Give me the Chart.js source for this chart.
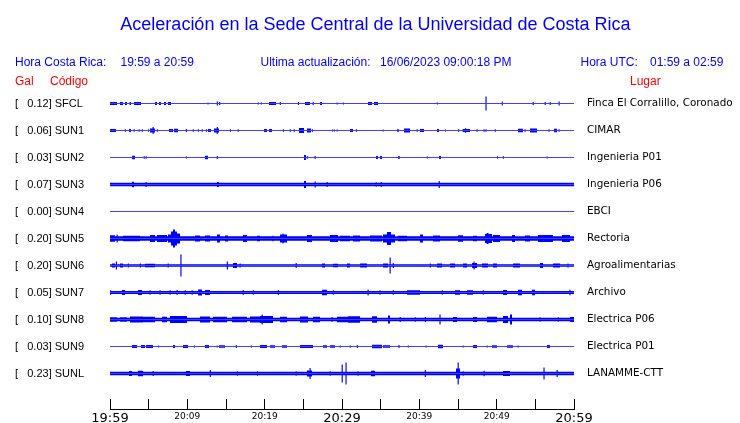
<!DOCTYPE html>
<html><head><meta charset="utf-8">
<script src="https://cdn.jsdelivr.net/npm/chart.js@4/dist/chart.umd.min.js"></script>
<style>
html,body{margin:0;padding:0;background:#fff;}
#wrap{position:relative;width:740px;height:423px;overflow:hidden;background:#fff;}
#wrap canvas{position:absolute;left:0;top:0;}
.t{position:absolute;white-space:pre;font-family:'Liberation Sans',Arial,sans-serif;line-height:1;}
.b{color:#0000ff;font-size:12px;}
.r{color:#ff0000;font-size:12px;}
</style></head><body>
<div id="wrap">
<canvas id="c" width="740" height="423"></canvas>
<div class="t" style="left:0;width:751px;text-align:center;top:14.8px;font-size:18px;color:#0000ff">Aceleración en la Sede Central de la Universidad de Costa Rica</div>
<div class="t b" style="left:15px;top:56px">Hora Costa Rica:</div>
<div class="t b" style="left:120.5px;top:56px">19:59 a 20:59</div>
<div class="t b" style="left:260.5px;top:56px">Ultima actualización:</div>
<div class="t b" style="left:380px;top:56px">16/06/2023 09:00:18 PM</div>
<div class="t b" style="left:580.5px;top:56px">Hora UTC:</div>
<div class="t b" style="left:650px;top:56px">01:59 a 02:59</div>
<div class="t r" style="left:15px;top:75px">Gal</div>
<div class="t r" style="left:50px;top:75px">Código</div>
<div class="t r" style="left:630px;top:75px">Lugar</div>
</div>
<script>
// ---- data ----
const CODES = ['SFCL','SUN1','SUN2','SUN3','SUN4','SUN5','SUN6','SUN7','SUN8','SUN9','SUNL'];
const GAL = [0.12, 0.06, 0.03, 0.07, 0.00, 0.20, 0.20, 0.05, 0.10, 0.03, 0.23];
const PLACES = ['Finca El Corralillo, Coronado','CIMAR','Ingenieria P01','Ingenieria P06','EBCI','Rectoria','Agroalimentarias','Archivo','Electrica P06','Electrica P01','LANAMME-CTT'];
const TIME_LABELS = ['19:59','20:09','20:19','20:29','20:39','20:49','20:59'];
// background noise level of each trace (relative amplitude)
const BASE = [0.5, 0.6, 0.5, 1.7, 0.5, 2.3, 1.2, 1.6, 1.7, 0.5, 1.7];
// bursts: [start minute, end minute, amplitude]
const SFCL = [[0,0.91,1.5],[1.29,1.68,1.5],[1.94,2.2,1.5],[2.53,2.72,1.5],[3.1,4.01,1.5],[5.82,6.08,1.5],[6.34,6.59,1.5],[6.98,7.24,1.5],[7.5,7.89,1.5],[12.6,12.75,1],[13.8,13.95,2],[14.1,14.25,1.5],[19.1,19.25,1],[19.5,19.65,1],[20.56,21.47,1.5],[21.95,22.1,1.5],[24.3,24.45,1.5],[25.22,25.86,1.5],[26.2,26.35,1.5],[27.16,27.41,1.5],[29.3,29.45,1],[30.1,30.25,1],[33.36,33.88,1.5],[34.14,34.66,1.5],[42.25,42.4,1],[48.55,48.7,7],[50.65,50.8,2],[54.65,54.8,1.5],[56.2,56.35,1.5],[56.85,57.0,1.5],[58.0,58.15,2]];
const SUN1 = [[0,0.78,1.5],[1.9,2.05,1.2],[2.46,2.72,1.5],[3.05,3.2,1.2],[3.7,3.85,1.2],[4.1,4.25,1.2],[4.91,5.04,1.2],[5.17,5.82,2],[5.5,5.65,3.5],[6.05,6.2,1.2],[7.63,8.15,1.5],[8.28,8.79,1.7],[9.8,9.95,1.5],[10.7,10.85,1.2],[11.35,11.5,1.2],[11.85,12.0,1.2],[12.4,12.55,1.2],[12.67,13.06,1.5],[13.45,14.09,2],[13.8,13.95,3.5],[15.5,15.65,1.2],[16.5,16.65,1.2],[19.91,20.3,1.5],[20.56,20.95,1.5],[22.35,22.5,1.2],[23.25,23.4,1.2],[23.75,23.9,1.2],[24.44,25.09,2.5],[25.47,25.99,2],[26.1,26.25,1.2],[28.7,28.85,1],[28.95,29.1,1],[29.3,29.45,1],[31.03,31.42,1.5],[31.8,31.95,1.2],[35.25,35.4,1],[37.11,37.37,1.2],[38.02,38.79,2],[39.65,39.8,1.2],[40.09,40.6,1.5],[42.28,42.54,1.5],[43.3,43.45,1],[45.0,45.15,1.2],[45.6,46.55,1.5],[45.9,46.05,2.2],[47.4,47.55,1.2],[48.3,48.45,1.2],[48.55,48.7,1.2],[49.75,49.9,1.2],[52.76,53.4,1.7],[53.6,53.75,1.2],[54.31,55.22,2],[56.7,56.85,1.2],[57.41,57.8,1.7],[58.0,58.15,1.2]];
const SUN2 = [[2.84,3.23,1.7],[4.35,4.5,1.2],[4.6,4.75,1.2],[9.8,9.95,1],[12.28,12.67,1.7],[13.8,13.95,1.5],[25.09,25.34,2.5],[25.45,25.6,1.2],[26.45,26.6,1.5],[34.4,34.66,1.5],[34.91,35.17,1.5],[37.24,37.5,1.2],[40.95,41.1,1],[42.54,42.8,1.5],[50.04,50.17,1.2],[50.8,50.95,1.2],[56.45,56.6,1]];
const SUN3 = [[2.84,3.1,2.7],[4.6,4.75,2.5],[13.84,14.09,2.5],[25.09,25.34,3.5],[26.45,26.6,3],[28.0,28.15,2.5],[34.35,34.5,2.3],[35.0,35.15,2.5],[42.5,42.65,3.5]];
const SUN4 = [];
const SUN5 = [[0,0.65,3.2],[0.85,1.0,4],[1.68,3.88,2.8],[5.17,5.82,3.5],[6.08,7.37,3.5],[7.5,7.89,4],[7.89,8.66,7],[8.15,8.4,9],[8.66,9.05,5],[10.99,11.64,3],[12.28,12.93,3],[13.84,14.22,4],[14.87,15.26,3],[17.2,17.72,3.5],[19.01,19.4,2.8],[21.0,21.15,2.8],[21.98,22.89,4],[22.3,22.45,5],[25.47,26.12,3.5],[28.45,29.48,3.5],[29.74,31.03,2.8],[31.42,32.33,3],[33.62,35.17,3],[35.3,35.82,4],[35.82,36.34,6.5],[36.34,36.85,4],[37.24,38.41,2.8],[40.09,40.47,4],[41.77,42.67,3],[45.0,45.65,3.2],[46.94,47.46,2.8],[48.49,49.4,4.5],[48.7,48.95,5.5],[49.53,50.43,3.5],[51.98,52.37,3.5],[53.66,54.31,3],[55.34,57.28,3.5],[58.45,59.48,3.5]];
const SUN6 = [[0.26,0.65,2],[0.75,0.9,4],[1.29,1.68,2],[2.3,2.45,2],[3.85,4.0,2],[4.53,5.82,1.8],[7.45,7.6,2],[9.1,9.25,11],[15.1,15.25,4],[15.91,16.42,2.5],[16.75,16.9,2],[24.0,24.15,2.5],[27.41,27.8,2],[28.84,29.48,1.8],[30.65,31.03,2],[32.33,33.23,2],[35.3,35.95,2],[36.15,36.3,8],[36.55,36.7,2.5],[41.35,41.5,2],[42.28,42.93,2],[43.97,44.61,2],[45.65,46.16,2],[46.81,47.46,2.5],[47.0,47.15,4],[48.1,48.88,2],[49.53,50.04,2],[52.11,53.02,2],[55.6,55.99,2.5],[57.28,58.19,2],[59.15,59.3,2]];
const SUN7 = [[0,0.15,2.3],[1.55,1.94,2.5],[3.62,4.14,2.5],[5.1,5.25,2.3],[6.4,6.55,2.3],[7.7,7.85,2.3],[8.6,8.75,2.5],[9.65,9.8,2.3],[10.55,10.7,2.3],[11.38,11.9,3],[12.28,12.93,2.5],[17.15,17.3,2.5],[18.45,18.6,2.3],[21.7,21.85,2.5],[27.41,28.06,2.7],[28.8,28.95,2.3],[33.3,33.45,3],[34.85,35.0,2.3],[36.55,36.7,2.3],[38.41,40.09,2.2],[42.9,43.05,2.3],[44.61,45.26,2.3],[46.16,46.94,2.3],[48.2,48.35,2.3],[50.82,51.34,2.5],[52.76,53.27,2.8],[54.57,54.96,2.8],[59.4,59.55,2.8]];
const SUN8 = [[0,0.91,2.3],[1.29,2.2,2.3],[2.59,4.27,3],[4.27,5.82,2.8],[6.72,7.37,2.8],[7.76,9.96,3.5],[11.64,12.93,3],[13.32,15.13,2.8],[15.78,17.72,2.8],[18.1,19.4,3],[19.4,21.08,3.5],[19.6,19.75,5],[21.98,22.89,2.8],[24.57,25.6,3],[26.25,27.16,2.8],[28.65,28.8,2.5],[29.35,31.03,2.8],[30.78,32.33,3.2],[33.88,34.53,3.2],[35.95,36.21,4],[37.45,37.6,2.5],[39.4,39.55,2.3],[40.7,40.85,2.5],[42.6,42.75,5],[44.35,44.87,2.5],[46.94,47.46,2.5],[48.75,50.04,2.8],[50.82,51.47,3.5],[51.72,51.98,5],[55.55,55.7,2.3],[57.9,58.05,2.3],[59.48,60,2.5]];
const SUN9 = [[2.84,3.49,1.5],[4.01,4.53,1.5],[4.66,5.56,1.5],[6.2,6.35,1],[8.15,8.41,1.5],[9.44,10.09,1.5],[10.85,11.0,1],[12.28,12.8,1.5],[13.8,13.95,1],[14.09,14.87,1.2],[16.25,16.4,1.5],[18.2,18.35,1],[19.4,20.3,1.5],[20.69,21.34,1.2],[22.24,22.89,1.2],[24.57,26.25,1.5],[27.54,28.06,1.2],[28.45,29.09,1.2],[29.7,29.85,1],[31.0,31.15,1],[31.9,32.05,1.5],[33.88,35.17,1.7],[35.3,36.21,1.2],[37.3,37.45,1.5],[38.5,38.65,1],[40.8,40.95,1],[42.41,43.06,1.7],[45.6,45.75,1],[46.94,47.46,1.5],[48.7,48.85,1],[49.4,50.04,1.2],[51.34,52.11,1.2],[52.7,52.85,1],[56.51,56.9,1.5]];
const SUNL = [[2.46,2.84,2.5],[3.62,4.27,2.7],[5.5,5.65,2.5],[9.83,10.34,2.5],[12.9,13.05,3.5],[16.4,16.55,2.3],[19.0,19.15,2.3],[24.0,24.15,2.3],[25.47,26.12,3],[25.8,25.95,5.5],[28.4,28.55,2.3],[29.95,30.1,9],[30.45,30.6,11],[32.0,32.15,2.3],[33.75,34.27,2.7],[40.7,40.85,3.5],[44.74,45.26,5],[44.95,45.1,11],[45.6,45.75,2.3],[48.3,48.45,2.8],[50.82,51.72,2.5],[56.05,56.2,6],[57.75,57.9,3.5]];
const TRACES = [SFCL, SUN1, SUN2, SUN3, SUN4, SUN5, SUN6, SUN7, SUN8, SUN9, SUNL];

// ---- drawing ----
const GAIN = 27;      // amplitude units per trace spacing
const BLUE = '#0000ff';
const YMIN = -1 - 0.5 / GAIN;
const YMAX = YMIN + 333 / GAIN;

function envelope(base, bursts) {
  const bp = new Set([0, 60]);
  bursts.forEach(b => { bp.add(b[0]); bp.add(Math.min(b[1], 60)); });
  const xs = [...bp].sort((a, b) => a - b);
  const pts = [];
  for (let k = 0; k < xs.length - 1; k++) {
    const mid = (xs[k] + xs[k + 1]) / 2;
    let a = base;
    bursts.forEach(b => { if (b[0] <= mid && mid < b[1] && b[2] > a) a = b[2]; });
    pts.push([xs[k], a]);
  }
  pts.push([60, pts[pts.length - 1][1]]);
  return pts;
}

const datasets = [];
TRACES.forEach((bursts, i) => {
  const env = envelope(BASE[i], bursts);
  [-1, 1].forEach(sign => {
    datasets.push({
      data: env.map(p => ({x: p[0], y: i + sign * p[1] / GAIN})),
      stepped: true,
      fill: {value: i},
      backgroundColor: BLUE,
      borderColor: 'rgba(0,0,0,0)',
      borderWidth: 0,
      pointRadius: 0,
      yAxisID: 'y'
    });
  });
});

function zeroPad(s) { s.paddingLeft = 0; s.paddingRight = 0; s.paddingTop = 0; s.paddingBottom = 0; }
const bigTick = v => v === 0 || v === 30 || v === 60;

new Chart(document.getElementById('c'), {
  type: 'line',
  data: {datasets},
  options: {
    responsive: false,
    animation: false,
    devicePixelRatio: 1,
    layout: {padding: {left: 15, top: 76, right: 0, bottom: 0}},
    plugins: {legend: {display: false}, tooltip: {enabled: false}, title: {display: false}},
    scales: {
      x: {
        type: 'linear', min: 0, max: 60, position: 'bottom',
        grid: {display: true, drawOnChartArea: false, drawTicks: true, tickLength: -10, color: '#000', lineWidth: 1},
        border: {display: true, color: '#000', width: 1},
        ticks: {
          stepSize: 5, autoSkip: false, maxRotation: 0, minRotation: 0, padding: 12, color: '#000',
          callback: v => (v % 10 === 0 ? TIME_LABELS[v / 10] : ''),
          font: ctx => ({family: 'DejaVu Sans', size: (ctx.tick && bigTick(ctx.tick.value)) ? 13 : 9})
        },
        afterFit: s => { s.height = 14; zeroPad(s); }
      },
      y: {
        type: 'linear', reverse: true, min: YMIN, max: YMAX, position: 'left',
        grid: {display: false}, border: {display: false},
        afterBuildTicks: s => { s.ticks = CODES.map((_, i) => ({value: i})); },
        ticks: {
          autoSkip: false, crossAlign: 'far', padding: 0, color: '#000',
          font: {family: 'Liberation Sans', size: 11},
          callback: (v, idx) => '[   ' + GAL[idx].toFixed(2) + '] ' + CODES[idx]
        },
        afterFit: s => { s.width = 95; zeroPad(s); }
      },
      y2: {
        type: 'linear', reverse: true, min: YMIN, max: YMAX, position: 'right',
        grid: {display: false}, border: {display: false},
        afterBuildTicks: s => { s.ticks = PLACES.map((_, i) => ({value: i})); },
        ticks: {
          autoSkip: false, crossAlign: 'near', padding: 5, color: '#000',
          font: {family: 'DejaVu Sans', size: 10.4},
          callback: (v, idx) => PLACES[idx]
        },
        afterFit: s => { s.width = 166; zeroPad(s); }
      }
    }
  }
});
</script>
</body></html>
